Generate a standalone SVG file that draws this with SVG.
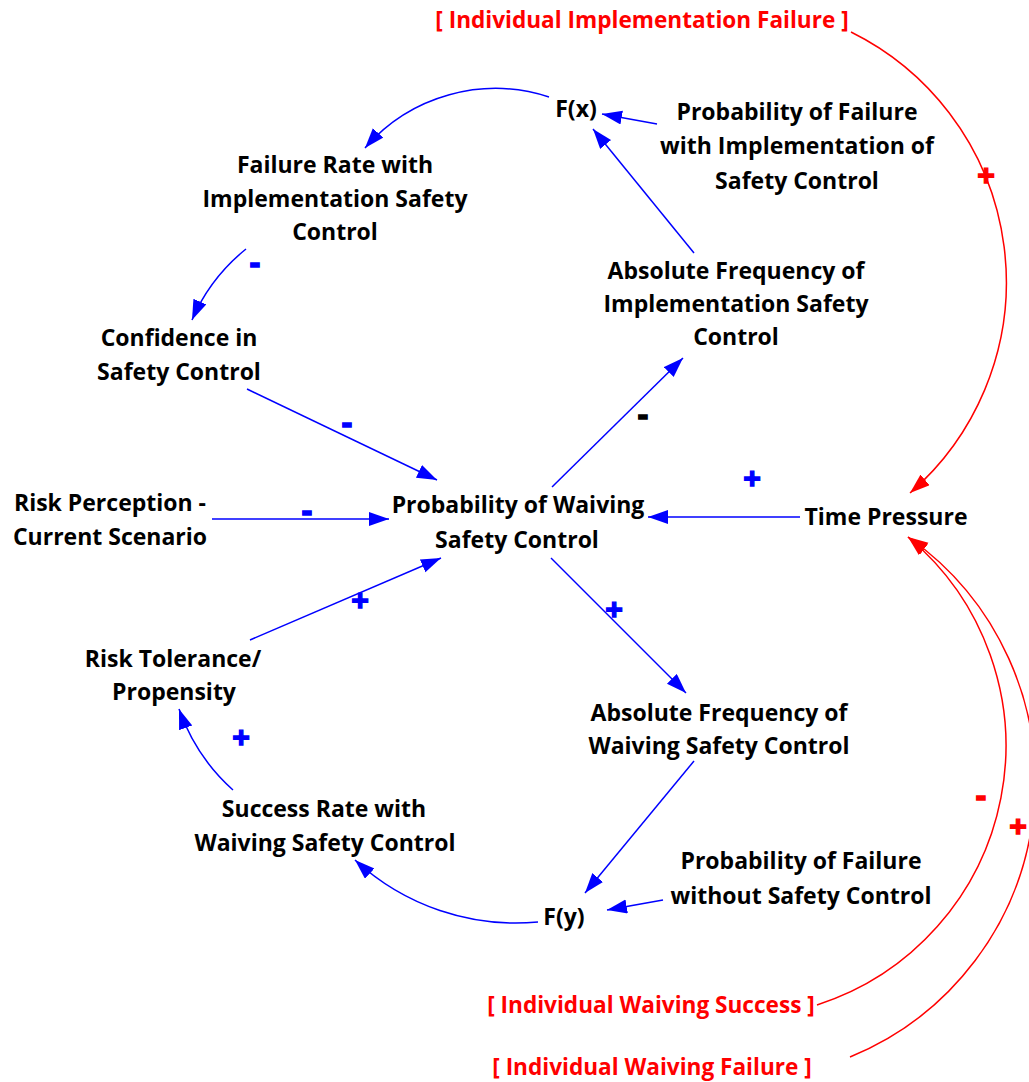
<svg xmlns="http://www.w3.org/2000/svg" width="1029" height="1082" viewBox="0 0 1029 1082">
<style>
.t{font-family:"Open Sans","Liberation Sans",sans-serif;font-weight:700;font-size:23px;fill:#000;text-anchor:middle}
.r{fill:#ff0000;font-size:22.6px}
.b{stroke:#0000ff;stroke-width:1.5;fill:none;marker-end:url(#ab)}
.rl{stroke:#ff0000;stroke-width:1.5;fill:none;marker-end:url(#ar)}
.s{font-family:"Open Sans","Liberation Sans",sans-serif;font-weight:700;text-anchor:middle;stroke-width:1.4}
.m{font-size:32px}
.p{font-size:31px}
.sb{fill:#0000ff;stroke:#0000ff}
.sr{fill:#ff0000;stroke:#ff0000}
.sk{fill:#000;stroke:#000}
</style>
<defs>
<marker id="ab" markerUnits="userSpaceOnUse" markerWidth="22" markerHeight="16" refX="20" refY="7" orient="auto" viewBox="0 0 22 16"><path d="M0,0 L20,7 L0,14 z" fill="#0000ff"/></marker>
<marker id="ar" markerUnits="userSpaceOnUse" markerWidth="22" markerHeight="16" refX="20" refY="7" orient="auto" viewBox="0 0 22 16"><path d="M0,0 L20,7 L0,14 z" fill="#ff0000"/></marker>
</defs>
<rect width="1029" height="1082" fill="#fff"/>
<g id="connectors">
<path class="b" d="M549,97 A173,173 0 0 0 365,148"/>
<path class="b" d="M657,124 L602,114"/>
<path class="b" d="M694,253 L593,129"/>
<path class="b" d="M246,249 Q210,278 192,320"/>
<path class="b" d="M247,389 L437,480"/>
<path class="b" d="M552,487 L683,358"/>
<path class="b" d="M212,519 L389,519"/>
<path class="b" d="M800,517 L648,517"/>
<path class="b" d="M250,640 L441,558"/>
<path class="b" d="M551,558 L686,693"/>
<path class="b" d="M694,761 L585,893"/>
<path class="b" d="M663,900 L607,910"/>
<path class="b" d="M538,922 A237,237 0 0 1 355,860"/>
<path class="b" d="M233,790 Q196,757 179,709"/>
<path class="rl" d="M851,32 A279,279 0 0 1 910,493"/>
<path class="rl" d="M817,1005 A272,272 0 0 0 908,537"/>
<path class="rl" d="M850,1057 A298,298 0 0 0 908,537"/>
<text class="s m sb" x="255" y="274">-</text>
<text class="s m sb" x="347" y="434">-</text>
<text class="s m sb" x="307" y="522">-</text>
<text class="s m sk" x="643" y="426">-</text>
<text class="s p sb" x="752" y="489">+</text>
<text class="s p sb" x="360" y="611">+</text>
<text class="s p sb" x="614" y="620">+</text>
<text class="s p sb" x="241" y="748">+</text>
<text class="s p sr" x="986" y="186">+</text>
<text class="s m sr" x="981" y="807">-</text>
<text class="s p sr" x="1018" y="837">+</text>
</g>
<g id="n_impl_failure"><text class="t r" x="642" y="28">[ Individual Implementation Failure ]</text></g>
<g id="n_fx"><text class="t" x="576" y="117">F(x)</text></g>
<g id="n_prob_fail_impl"><text class="t" x="797" y="120">Probability of Failure</text><text class="t" x="797" y="154">with Implementation of</text><text class="t" x="797" y="189">Safety Control</text></g>
<g id="n_fail_rate"><text class="t" x="335" y="173">Failure Rate with</text><text class="t" x="335" y="207">Implementation Safety</text><text class="t" x="335" y="240">Control</text></g>
<g id="n_abs_freq_impl"><text class="t" x="736" y="279">Absolute Frequency of</text><text class="t" x="736" y="312">Implementation Safety</text><text class="t" x="736" y="345">Control</text></g>
<g id="n_confidence"><text class="t" x="179" y="346">Confidence in</text><text class="t" x="179" y="380">Safety Control</text></g>
<g id="n_risk_perception"><text class="t" x="110" y="511">Risk Perception -</text><text class="t" x="110" y="545">Current Scenario</text></g>
<g id="n_prob_waiving"><text class="t" x="518" y="513">Probability of Waiving</text><text class="t" x="517" y="548">Safety Control</text></g>
<g id="n_time_pressure"><text class="t" x="886" y="525">Time Pressure</text></g>
<g id="n_risk_tolerance"><text class="t" x="173" y="667">Risk Tolerance/</text><text class="t" x="174" y="700">Propensity</text></g>
<g id="n_abs_freq_waiving"><text class="t" x="719" y="721">Absolute Frequency of</text><text class="t" x="719" y="754">Waiving Safety Control</text></g>
<g id="n_success_rate"><text class="t" x="324" y="817">Success Rate with</text><text class="t" x="325" y="851">Waiving Safety Control</text></g>
<g id="n_prob_fail_without"><text class="t" x="801" y="869">Probability of Failure</text><text class="t" x="801" y="904">without Safety Control</text></g>
<g id="n_fy"><text class="t" x="564" y="925">F(y)</text></g>
<g id="n_waiving_success"><text class="t r" x="651" y="1013">[ Individual Waiving Success ]</text></g>
<g id="n_waiving_failure"><text class="t r" x="652" y="1075">[ Individual Waiving Failure ]</text></g>
</svg>
